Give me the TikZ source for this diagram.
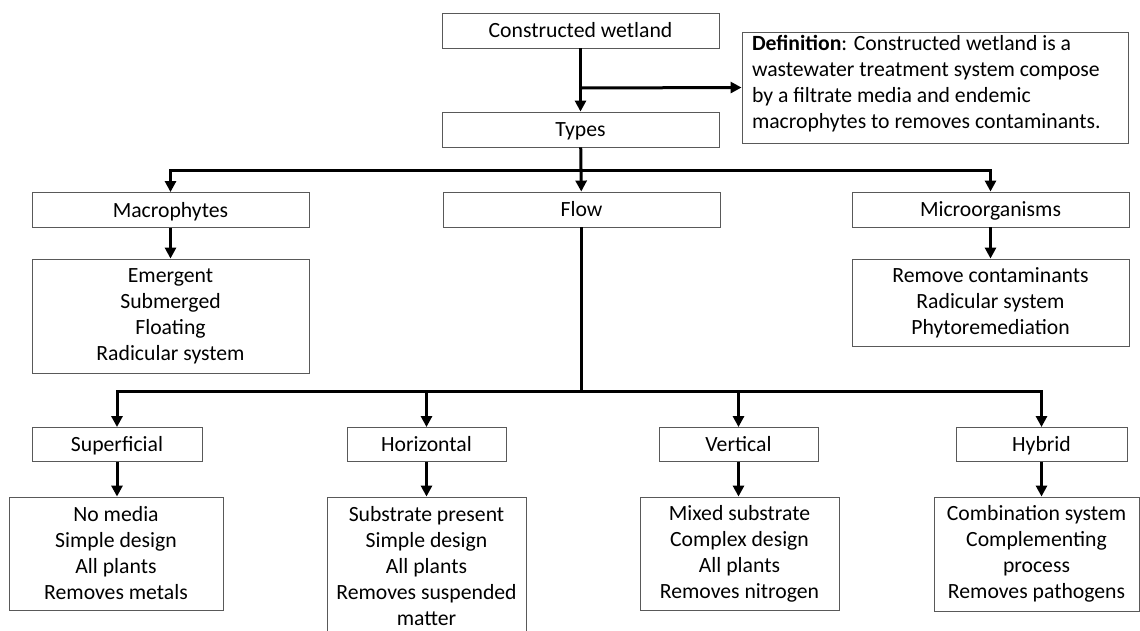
\documentclass[tikz,border=0pt]{standalone}
\usepackage{fontspec}
\setmainfont{Carlito}
\usetikzlibrary{arrows.meta}
\colorlet{bcol}{black!65!white}
\tikzstyle{box}=[draw=bcol, line width=0.9pt, inner sep=0pt, align=center, font=\fontsize{21.7}{26}\selectfont]
\tikzstyle{head}=[box, minimum height=35pt, text height=15pt, text depth=1pt]
\tikzstyle{edge}=[line width=3pt, black]
\tikzstyle{aedge}=[edge, -{Triangle[length=11pt,width=11pt]}]

\begin{document}
\begin{tikzpicture}[x=1pt, y=-1pt]
	\useasboundingbox (0,0) rectangle (1140,630);
	\clip (0,0) rectangle (1140,630);

	\node[head, minimum width=277pt] (cw) at (580.5, 30.5) {Constructed wetland};
	\node[head, minimum width=277pt] (types) at (580.5, 129.5) {Types};
	\node[box, align=flush left, text width=366pt, inner xsep=10pt, inner ysep=0pt, minimum height=111pt] (def) at (935, 87.5)
		{\textbf{Definition}: Constructed wetland is a\\wastewater treatment system compose\\by a filtrate media and endemic\\macrophytes to removes contaminants.\vspace{8pt}};

	\node[head, minimum width=277pt] (mac) at (170.5, 210) {Macrophytes};
	\node[head, minimum width=277pt] (flow) at (581.5, 209.5) {Flow};
	\node[head, minimum width=277pt] (mic) at (990.5, 209.5) {Microorganisms};

	\node[box, minimum width=277pt, minimum height=114pt] (macl) at (170.5, 316)
		{Emergent\\Submerged\\Floating\\Radicular system};
	\node[box, minimum width=277pt, minimum height=87pt] (micl) at (990.5, 302.5)
		{Remove contaminants\\Radicular system\\Phytoremediation};

	\node[head, minimum width=170pt, minimum height=34pt] (sup) at (117, 444.5) {Superficial};
	\node[head, minimum width=159pt, minimum height=34pt] (hor) at (426.5, 444.5) {Horizontal};
	\node[head, minimum width=159pt, minimum height=34pt] (ver) at (738.5, 444.5) {Vertical};
	\node[head, minimum width=171pt, minimum height=34pt] (hyb) at (1041.5, 444.5) {Hybrid};

	\node[box, minimum width=214pt, minimum height=113pt] (supl) at (116, 553.5)
		{No media\\Simple design\\All plants\\Removes metals};
	\node[box, minimum width=199pt, minimum height=139pt] (horl) at (426.5, 566.5)
		{Substrate present\\Simple design\\All plants\\Removes suspended\\matter};
	\node[box, minimum width=199pt, minimum height=113pt] (verl) at (739.5, 553.5)
		{Mixed substrate\\Complex design\\All plants\\Removes nitrogen};
	\node[box, minimum width=205pt, minimum height=114pt] (hybl) at (1036.5, 554)
		{Combination system\\Complementing\\process\\Removes pathogens};

	% Junctions
	\coordinate (dj) at (580.5, 88);
	\coordinate (tj) at (580.5, 170);
	\coordinate (fj) at (581.5, 391);

	% Top
	\draw[aedge] (cw) -- (types);
	\draw[aedge] (dj) -- (def.west);
	% Types
	\draw[aedge] (types) -- (flow);
	\draw[aedge] (tj) -| (mac);
	\draw[aedge] (tj) -| (mic);
	\draw[aedge] (mac) -- (macl);
	\draw[aedge] (mic) -- (micl);
	% Flow
	\draw[edge] (flow) -- (fj);
	\draw[aedge] (fj) -| (sup);
	\draw[aedge] (fj) -| (hor);
	\draw[aedge] (fj) -| (ver);
	\draw[aedge] (fj) -| (hyb);
	\draw[aedge] (sup) -- (supl.north -| sup);
	\draw[aedge] (hor) -- (horl);
	\draw[aedge] (ver) -- (verl.north -| ver);
	\draw[aedge] (hyb) -- (hybl.north -| hyb);
\end{tikzpicture}
\end{document}
